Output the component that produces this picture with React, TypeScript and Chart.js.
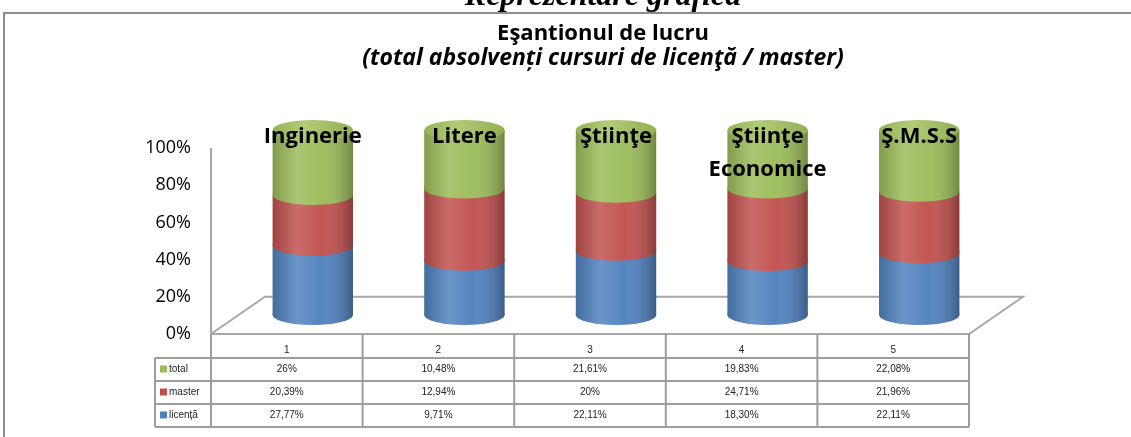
import React, { useEffect, useRef } from "react";
import { Chart, registerables } from "chart.js";
Chart.register(...registerables);

const categories = ["1", "2", "3", "4", "5"];
const groupNames: (string | string[])[] = ["Inginerie", "Litere", "Ştiinţe", ["Ştiinţe", "Economice"], "Ş.M.S.S"];
const seriesNames = ["licență", "master", "total"];
const licentaValues = [27.77, 9.71, 22.11, 18.3, 22.11];
const masterValues = [20.39, 12.94, 20, 24.71, 21.96];
const totalValues = [26, 10.48, 21.61, 19.83, 22.08];
const licentaLabels = ["27,77%", "9,71%", "22,11%", "18,30%", "22,11%"];
const masterLabels = ["20,39%", "12,94%", "20%", "24,71%", "21,96%"];
const totalLabels = ["26%", "10,48%", "21,61%", "19,83%", "22,08%"];
const seriesColors = ["#4F81BD", "#C0504D", "#9BBB59"];

const FONT = "'Open Sans', Lato, sans-serif";
const HEAD_X = 603;

function normalize(idx: number, v: number) {
  const s = licentaValues[idx] + masterValues[idx] + totalValues[idx];
  return (v / s) * 100;
}

const decorPlugin = {
  id: "decor",
  beforeDatasetsDraw(chart: any) {
    const { ctx, chartArea, scales } = chart;
    const y = scales.y;
    const colW = (chartArea.right - chartArea.left) / categories.length;
    const tl = chartArea.left - 26;
    const tr = tl + colW * categories.length;
    const front = y.getPixelForValue(0);
    const back = y.getPixelForValue(20);
    const dx = 54;
    ctx.save();
    ctx.strokeStyle = "#a8a8a8";
    ctx.lineWidth = 2;
    ctx.beginPath();
    ctx.moveTo(tl, y.getPixelForValue(100));
    ctx.lineTo(tl, front);
    ctx.moveTo(tl, front);
    ctx.lineTo(tl + dx, back);
    ctx.lineTo(tr + dx, back);
    ctx.lineTo(tr, front);
    ctx.lineTo(tl, front);
    ctx.stroke();
    ctx.restore();
  },
  afterDatasetsDraw(chart: any) {
    const { ctx } = chart;
    const metas = [0, 1, 2].map((i) => chart.getDatasetMeta(i));
    const ry = 10;
    ctx.save();
    metas.forEach((meta: any, d: number) => {
      meta.data.forEach((el: any) => {
        const w = el.width;
        const x0 = el.x - w / 2;
        ctx.beginPath();
        ctx.moveTo(x0, el.base - 2);
        ctx.lineTo(x0 + w, el.base - 2);
        ctx.lineTo(x0 + w, el.base);
        ctx.ellipse(el.x, el.base, w / 2, ry, 0, 0, Math.PI);
        ctx.closePath();
        ctx.fillStyle = seriesColors[d];
        ctx.fill();
      });
    });
    metas[0].data.forEach((el0: any, i: number) => {
      const top = metas[2].data[i];
      const w = el0.width;
      const x0 = el0.x - w / 2;
      const g = ctx.createLinearGradient(x0, 0, x0 + w, 0);
      g.addColorStop(0, "rgba(0,0,0,0.16)");
      g.addColorStop(0.3, "rgba(255,255,255,0.16)");
      g.addColorStop(0.6, "rgba(255,255,255,0.04)");
      g.addColorStop(1, "rgba(0,0,0,0.28)");
      ctx.beginPath();
      ctx.moveTo(x0, top.y);
      ctx.lineTo(x0, el0.base);
      ctx.ellipse(el0.x, el0.base, w / 2, ry, 0, Math.PI, 0, true);
      ctx.lineTo(x0 + w, top.y);
      ctx.closePath();
      ctx.fillStyle = g;
      ctx.fill();
      ctx.beginPath();
      ctx.ellipse(top.x, top.y, w / 2, ry, 0, 0, Math.PI * 2);
      const g2 = ctx.createLinearGradient(x0, 0, x0 + w, 0);
      g2.addColorStop(0, "#95b356");
      g2.addColorStop(0.4, "#b0cc78");
      g2.addColorStop(1, "#92b053");
      ctx.fillStyle = g2;
      ctx.fill();
    });
    ctx.fillStyle = "#000";
    ctx.font = `bold 22px ${FONT}`;
    ctx.textAlign = "center";
    ctx.textBaseline = "middle";
    metas[2].data.forEach((el: any, i: number) => {
      const lines = Array.isArray(groupNames[i]) ? (groupNames[i] as string[]) : [groupNames[i] as string];
      lines.forEach((ln, k) => ctx.fillText(ln, el.x, 137 + k * 33));
    });
    ctx.restore();
  },
  afterDraw(chart: any) {
    const { ctx, chartArea, scales, width } = chart;
    const y = scales.y;
    ctx.save();
    ctx.strokeStyle = "#8c8c8c";
    ctx.lineWidth = 2;
    ctx.strokeRect(4, 13, width + 20, 500);
    ctx.fillStyle = "#000";
    ctx.textAlign = "center";
    ctx.textBaseline = "alphabetic";
    ctx.font = "bold italic 32px 'Liberation Serif', serif";
    ctx.fillText("Reprezentare grafică", HEAD_X, 5);
    ctx.textBaseline = "middle";
    ctx.font = `bold 22px ${FONT}`;
    ctx.fillText("Eşantionul de lucru", HEAD_X, 34);
    ctx.font = `italic bold 23px ${FONT}`;
    ctx.fillText("(total absolvenți cursuri de licenţă / master)", HEAD_X, 58);

    const colW = (chartArea.right - chartArea.left) / categories.length;
    const tl = chartArea.left - 26;
    const tr = tl + colW * categories.length;
    const top = y.getPixelForValue(0);
    const rowTops = [top, 358, 381, 404, 427];
    const legL = 155;
    ctx.strokeStyle = "#9d9d9d";
    ctx.lineWidth = 2;
    ctx.beginPath();
    for (let r = 1; r < rowTops.length; r++) {
      ctx.moveTo(legL, rowTops[r]);
      ctx.lineTo(tr, rowTops[r]);
    }
    for (let c = 0; c <= categories.length; c++) {
      ctx.moveTo(tl + c * colW, top);
      ctx.lineTo(tl + c * colW, rowTops[4]);
    }
    ctx.moveTo(legL, rowTops[1]);
    ctx.lineTo(legL, rowTops[4]);
    ctx.stroke();

    ctx.font = `10px 'Liberation Sans', sans-serif`;
    ctx.fillStyle = "#222";
    ctx.textAlign = "center";
    ctx.textBaseline = "middle";
    categories.forEach((c, i) => ctx.fillText(c, tl + (i + 0.5) * colW, 350));
    const rows = [
      { name: seriesNames[2], color: seriesColors[2], labels: totalLabels },
      { name: seriesNames[1], color: seriesColors[1], labels: masterLabels },
      { name: seriesNames[0], color: seriesColors[0], labels: licentaLabels },
    ];
    rows.forEach((row, r) => {
      const cy = (rowTops[r + 1] + rowTops[r + 2]) / 2;
      ctx.textAlign = "center";
      ctx.fillStyle = "#222";
      row.labels.forEach((t, i) => ctx.fillText(t, tl + (i + 0.5) * colW, cy));
      ctx.fillStyle = row.color;
      ctx.fillRect(legL + 5, cy - 4, 7, 7);
      ctx.fillStyle = "#222";
      ctx.textAlign = "left";
      ctx.fillText(row.name, legL + 14, cy);
    });
    ctx.restore();
  },
};

export default function App() {
  const ref = useRef<HTMLCanvasElement | null>(null);
  useEffect(() => {
    if (!ref.current) return;
    const mk = (vals: number[]) => vals.map((v, i) => normalize(i, v));
    const chart = new Chart(ref.current, {
      type: "bar",
      data: {
        labels: categories,
        datasets: [
          { label: seriesNames[0], data: mk(licentaValues), backgroundColor: seriesColors[0], yAxisID: "y2", clip: false as any, stack: "s" },
          { label: seriesNames[1], data: mk(masterValues), backgroundColor: seriesColors[1], yAxisID: "y2", clip: false as any, stack: "s" },
          { label: seriesNames[2], data: mk(totalValues), backgroundColor: seriesColors[2], yAxisID: "y2", clip: false as any, stack: "s" },
        ],
      },
      options: {
        animation: false,
        responsive: false,
        devicePixelRatio: 1,
        categoryPercentage: 0.53,
        barPercentage: 1,
        layout: { padding: { top: 148, bottom: 103, left: 0, right: 136 } },
        plugins: { legend: { display: false }, title: { display: false }, tooltip: { enabled: false } },
        scales: {
          x: { stacked: true, display: false },
          y: {
            min: 0,
            max: 100,
            position: "left",
            afterFit: (s: any) => {
              s.width = 237;
            },
            grid: { display: false },
            border: { display: false },
            ticks: {
              stepSize: 20,
              padding: 38,
              color: "#000",
              font: { family: FONT, size: 18 },
              callback: (v: any) => v + "%",
            },
          },
          y2: { stacked: true, display: false, min: -10.3, max: 90.3 },
        },
      } as any,
      plugins: [decorPlugin],
    });
    return () => chart.destroy();
  }, []);
  return (
    <div style={{ position: "absolute", left: 0, top: 0, width: 1131, height: 437 }}>
      <canvas ref={ref} width={1131} height={437} style={{ width: 1131, height: 437, display: "block" }} />
    </div>
  );
}
